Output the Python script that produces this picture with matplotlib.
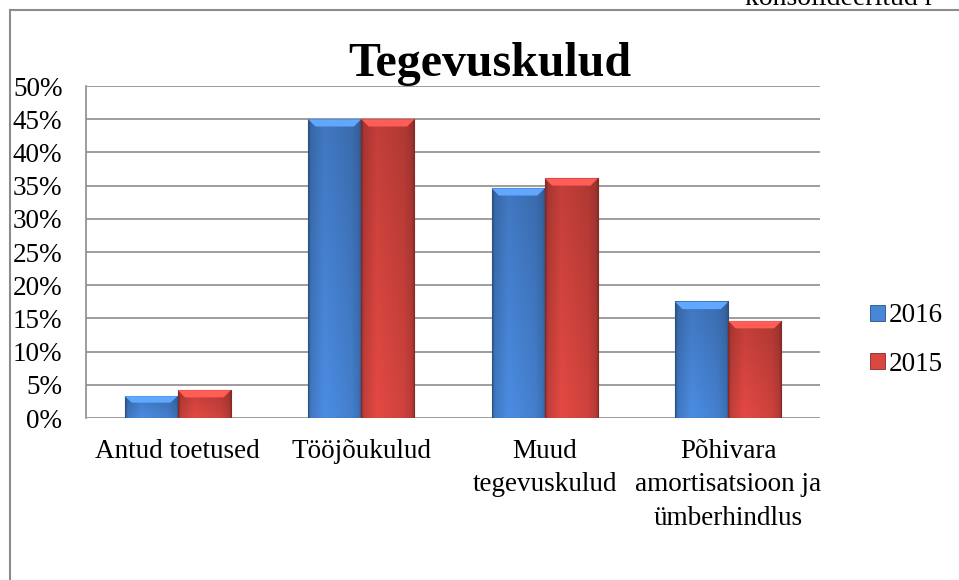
import numpy as np
import matplotlib.pyplot as plt
from matplotlib.patches import Polygon, Rectangle
from matplotlib.legend_handler import HandlerBase

plt.rcParams['font.family'] = ['Liberation Serif', 'DejaVu Serif']

# andmed
categories = ['Antud toetused', 'Tööjõukulud', 'Muud\ntegevuskulud',
              'Põhivara\namortisatsioon ja\nümberhindlus']
series = ['2016', '2015']
values_2016 = [3.3, 45.0, 34.6, 17.5]
values_2015 = [4.2, 45.0, 36.1, 14.6]
yticks = [0, 5, 10, 15, 20, 25, 30, 35, 40, 45, 50]

base_colors = {'2016': np.array([72, 134, 216]) / 255,
               '2015': np.array([218, 70, 64]) / 255}


def bar_image(c):
    # horisontaalne + vertikaalne gradient, nagu Exceli 3D tulbad
    u = np.linspace(0, 1, 60)
    prof = np.interp(u, [0, 0.05, 0.3, 0.8, 0.95, 1], [0.7, 0.9, 1.05, 0.95, 0.85, 0.7])
    v = np.linspace(1, 0, 100)
    vprof = np.interp(v, [0, 1], [1.0, 0.85])
    f = vprof[:, None] * prof[None, :]
    img = np.clip(c[None, None, :] * f[:, :, None], 0, 1)
    return img


def draw_bar(ax, x0, w, h, c):
    ax.imshow(bar_image(c), extent=[x0, x0 + w, 0, h], aspect='auto',
              origin='upper', zorder=3, interpolation='bilinear')
    ax.add_patch(Rectangle((x0, 0), w, h, fill=False, lw=0.8,
                           ec=c * 0.6, zorder=4))
    bx, by = 0.04, 1.1
    by = min(by, h * 0.3)
    top = Polygon([(x0, h), (x0 + w, h), (x0 + w - bx, h - by), (x0 + bx, h - by)],
                  closed=True, fc=np.clip(c * 1.15 + 0.05, 0, 1), ec='none', zorder=4)
    ax.add_patch(top)


class GradHandler(HandlerBase):
    def create_artists(self, legend, orig, xd, yd, width, height, fontsize, trans):
        c = orig.get_facecolor()[:3]
        s = height * 0.8
        r = Rectangle((width - s, (height - s) / 2 - yd), s, s,
                      fc=c, ec=np.array(c) * 0.6, lw=0.6, transform=trans)
        return [r]


fig = plt.figure(figsize=(9.59, 5.80), dpi=100)

# välimine raam
fig.add_artist(plt.Line2D([10 / 959, 1.0], [1 - 10 / 580, 1 - 10 / 580],
                          color='#8c8c8c', lw=1.5, transform=fig.transFigure))
fig.add_artist(plt.Line2D([10 / 959, 10 / 959], [1 - 10 / 580, 0],
                          color='#8c8c8c', lw=1.5, transform=fig.transFigure))
fig.text(745 / 959, 1 - 5 / 580, 'konsolideeritud r', fontsize=20,
         va='baseline', ha='left')

ax = fig.add_axes([86 / 959, 1 - 418 / 580, (820 - 86) / 959, (418 - 86) / 580])

x = np.arange(len(categories))
w = 0.29
handles = []
for i in range(len(categories)):
    draw_bar(ax, x[i] - w, w, values_2016[i], base_colors['2016'])
    draw_bar(ax, x[i], w, values_2015[i], base_colors['2015'])
for s in series:
    handles.append(Rectangle((0, 0), 1, 1, fc=base_colors[s], label=s))

ax.set_xlim(-0.5, len(categories) - 0.5)
ax.set_ylim(0, 50)
ax.set_yticks(yticks)
ax.set_yticklabels([f'{t}%' for t in yticks], fontsize=19.5)
ax.set_xticks(x)
ax.set_xticklabels(categories, fontsize=19.5, linespacing=1.45, va='top')
ax.tick_params(axis='x', length=0, pad=15)
ax.tick_params(axis='y', length=0, pad=17)
ax.grid(axis='y', color='#8c8c8c', lw=1.2, zorder=0)
ax.set_axisbelow(True)
for sp in ['top', 'right', 'bottom']:
    ax.spines[sp].set_visible(False)
ax.spines['left'].set_color('#8c8c8c')
ax.spines['left'].set_linewidth(1.2)

fig.text(490 / 959, 1 - 64 / 580, 'Tegevuskulud', fontsize=34.5, fontweight='bold',
         ha='center', va='center')

fig.legend(handles=handles, loc='center left', bbox_to_anchor=(870 / 959, 1 - 340 / 580),
           frameon=False, fontsize=19.5, handler_map={Rectangle: GradHandler()},
           handlelength=0.55, handletextpad=0.15, labelspacing=0.85,
           borderpad=0, borderaxespad=0)

fig.savefig('out.png', dpi=100)
